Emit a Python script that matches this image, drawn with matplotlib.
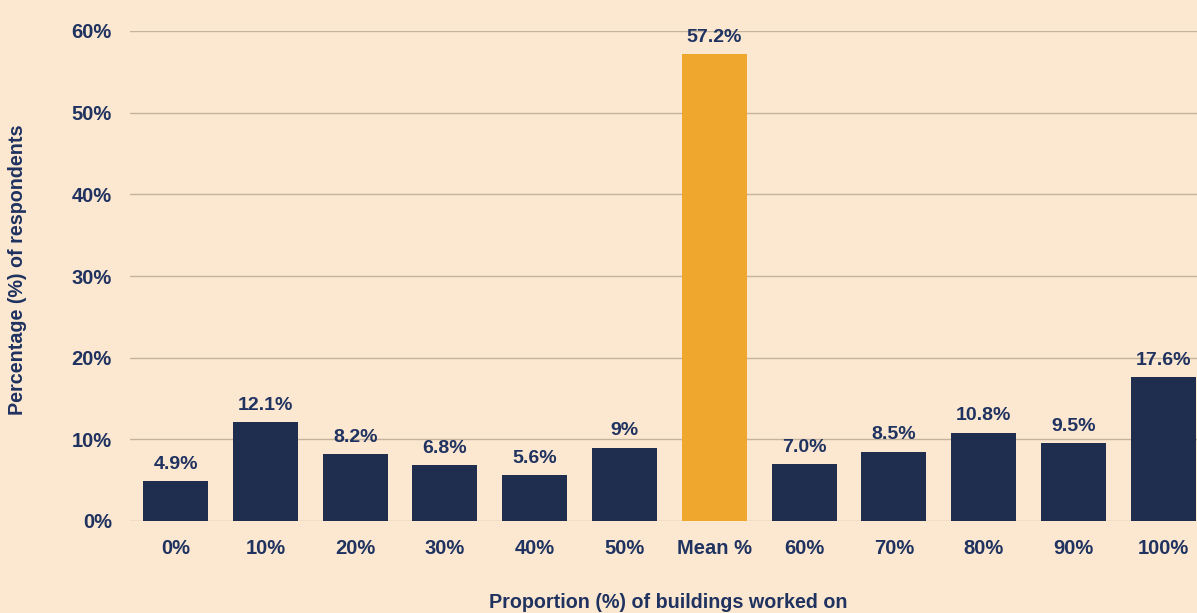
import matplotlib
matplotlib.use("Agg")
import matplotlib.pyplot as plt

categories = ["0%", "10%", "20%", "30%", "40%", "50%", "Mean %", "60%", "70%", "80%", "90%", "100%"]
values = [4.9, 12.1, 8.2, 6.8, 5.6, 9.0, 57.2, 7.0, 8.5, 10.8, 9.5, 17.6]
value_labels = ["4.9%", "12.1%", "8.2%", "6.8%", "5.6%", "9%", "57.2%", "7.0%", "8.5%", "10.8%", "9.5%", "17.6%"]
yticks = [0, 10, 20, 30, 40, 50, 60]
ytick_labels = ["0%", "10%", "20%", "30%", "40%", "50%", "60%"]

bg = "#FCE8D0"
navy = "#1F2D4E"
orange = "#EFA72E"
text_c = "#1F3260"
grid_c = "#C4B49E"

plt.rcParams['font.family'] = ['Liberation Sans', 'DejaVu Sans']

fig = plt.figure(figsize=(11.97, 6.13), dpi=100, facecolor=bg)
ax = fig.add_axes([130/1197, 1-521/613, 1-130/1197, (521-31)/613], facecolor=bg)

x = list(range(len(categories)))
colors = [orange if c == "Mean %" else navy for c in categories]
ax.bar(x, values, width=0.725, color=colors, zorder=3)

for xi, v, lab in zip(x, values, value_labels):
    ax.annotate(lab, (xi, v), xytext=(0, 6), textcoords="offset points",
                ha="center", va="bottom", fontsize=14, fontweight="bold",
                color=text_c, annotation_clip=False, zorder=4)

ax.set_xlim(-0.507, 11.375)
ax.set_ylim(0, 60)
ax.set_yticks(yticks)
ax.set_yticklabels(ytick_labels)
ax.set_xticks(x)
ax.set_xticklabels(categories)
ax.yaxis.grid(True, color=grid_c, linewidth=1.0, zorder=0)
ax.set_axisbelow(True)
for s in ax.spines.values():
    s.set_visible(False)
ax.tick_params(axis="both", length=0, labelsize=14.5, labelcolor=text_c)
ax.tick_params(axis="y", pad=13)
ax.tick_params(axis="x", pad=13)
for t in ax.get_xticklabels() + ax.get_yticklabels():
    t.set_fontweight("bold")

fig.text(18/1197, 1-270/613, "Percentage (%) of respondents", rotation=90,
         ha="center", va="center", fontsize=14.2, fontweight="bold", color=text_c)
fig.text(668/1197, 1-603/613, "Proportion (%) of buildings worked on",
         ha="center", va="center", fontsize=14.2, fontweight="bold", color=text_c)

fig.savefig("out.png", dpi=100, facecolor=bg)
